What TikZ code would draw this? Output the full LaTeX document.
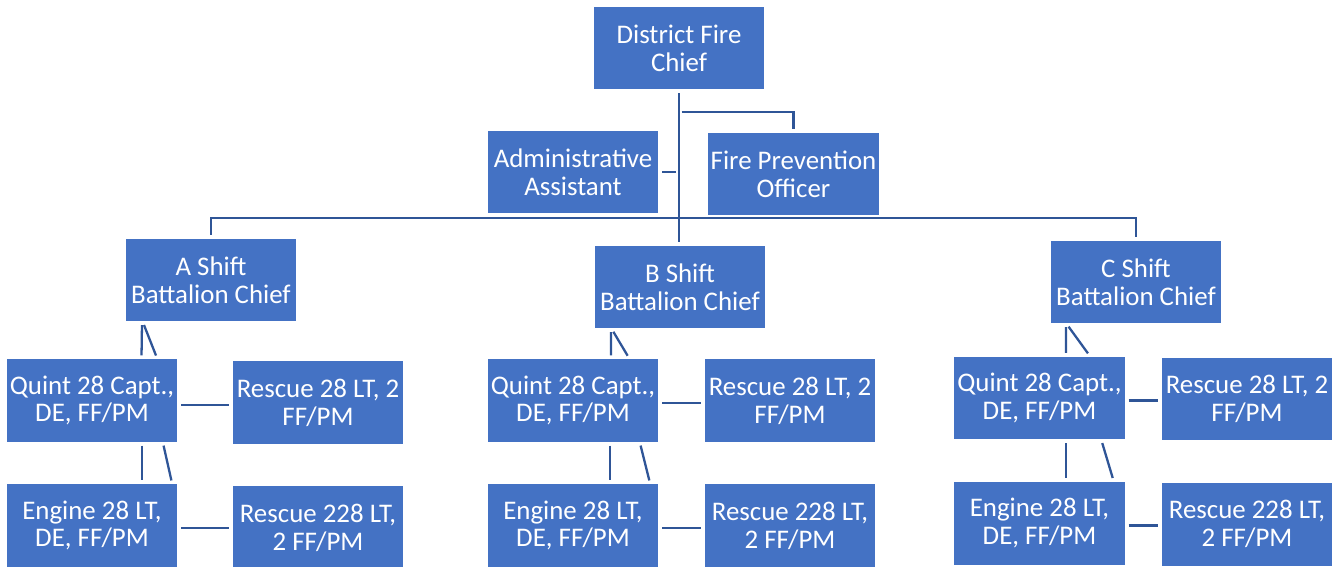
\documentclass[tikz,border=0pt]{standalone}
\usepackage{fontspec}
\setmainfont{Carlito}
\usetikzlibrary{positioning}
\definecolor{ChartFill}{HTML}{4472C4}
\definecolor{ChartLine}{HTML}{2F5597}

\begin{document}
\begin{tikzpicture}[x=0.02cm, y=-0.02cm,
    orgbox/.style={
      rectangle, draw=white, line width=0.6pt, fill=ChartFill, text=white,
      minimum width=3.44cm, minimum height=1.68cm, inner sep=1pt, align=center,
      font=\fontsize{15.3}{15.8}\selectfont
    },
    link/.style={draw=ChartLine, line width=1.3pt, shorten <=1.5pt, shorten >=1.5pt}
  ]
    \useasboundingbox (0,0) rectangle (1343,566);

    % top of the chart
    \node[orgbox] (chief) at (679,48) {District Fire\\Chief};
    \node[orgbox] (admin) at (573,172) {Administrative\\Assistant};
    \node[orgbox] (fpo) at (793.5,174) {Fire Prevention\\Officer};

    % battalion chiefs
    \node[orgbox] (ab) at (211,280) {A Shift\\Battalion Chief};
    \node[orgbox] (bb) at (680,287) {B Shift\\Battalion Chief};
    \node[orgbox] (cb) at (1136,282) {C Shift\\Battalion Chief};

    % A shift
    \node[orgbox] (aq) at (92,400.5) {Quint 28 Capt.,\\DE, FF/PM};
    \node[orgbox] (ar) at (318,402.5) {Rescue 28 LT, 2\\FF/PM};
    \node[orgbox, below=0.8cm of aq] (ae) {Engine 28 LT,\\DE, FF/PM};
    \node[orgbox, below=0.8cm of ar] (arr) {Rescue 228 LT,\\2 FF/PM};

    % B shift
    \node[orgbox] (bq) at (573,400.5) {Quint 28 Capt.,\\DE, FF/PM};
    \node[orgbox] (br) at (790,400.5) {Rescue 28 LT, 2\\FF/PM};
    \node[orgbox, below=0.8cm of bq] (be) {Engine 28 LT,\\DE, FF/PM};
    \node[orgbox, below=0.8cm of br] (brr) {Rescue 228 LT,\\2 FF/PM};

    % C shift
    \node[orgbox] (cq) at (1039.5,398) {Quint 28 Capt.,\\DE, FF/PM};
    \node[orgbox] (cr) at (1247,399) {Rescue 28 LT, 2\\FF/PM};
    \node[orgbox, below=0.8cm of cq] (ce) {Engine 28 LT,\\DE, FF/PM};
    \node[orgbox, below=0.8cm of cr] (crr) {Rescue 228 LT,\\2 FF/PM};

    \coordinate (hub) at (679,112);
    \coordinate (bus) at (679,218);

    % upper connectors
    \draw[link] (chief.south) -- (chief.south |- bb.north);
    \draw[link] (hub) -| (fpo.north);
    \draw[link] (admin.east) -- (admin.east -| hub);
    \draw[link] (ab.north) |- (bus) -| (cb.north);

    % A shift connectors
    \draw[link] ([xshift=0.99cm]aq.north) -- ([xshift=-1.38cm]ab.south);
    \draw[link] ([xshift=1.3cm]aq.north) -- ([xshift=-1.36cm]ab.south);
    \draw[link] ([xshift=1.0cm]aq.south) -- ([xshift=1.0cm]ae.north);
    \draw[link] ([xshift=1.42cm]aq.south) -- ([xshift=1.6cm]ae.north);
    \draw[link] ([yshift=-0.09cm]aq.east) -- ([yshift=-0.09cm]aq.east -| ar.west);
    \draw[link] ([yshift=-0.05cm]ae.east) -- ([yshift=-0.05cm]ae.east -| arr.west);

    % B shift connectors
    \draw[link] ([xshift=0.76cm]bq.north) -- ([xshift=-1.38cm]bb.south);
    \draw[link] ([xshift=1.12cm]bq.north) -- ([xshift=-1.36cm]bb.south);
    \draw[link] ([xshift=0.74cm]bq.south) -- ([xshift=0.74cm]be.north);
    \draw[link] ([xshift=1.34cm]bq.south) -- ([xshift=1.54cm]be.north);
    \draw[link] ([yshift=-0.05cm]bq.east) -- ([yshift=-0.05cm]bq.east -| br.west);
    \draw[link] ([yshift=-0.05cm]be.east) -- ([yshift=-0.05cm]be.east -| brr.west);

    % C shift connectors
    \draw[link] ([xshift=0.53cm]cq.north) -- ([xshift=-1.4cm]cb.south);
    \draw[link] ([xshift=1.0cm]cq.north) -- ([xshift=-1.38cm]cb.south);
    \draw[link] ([xshift=0.53cm]cq.south) -- ([xshift=0.53cm]ce.north);
    \draw[link] ([xshift=1.24cm]cq.south) -- ([xshift=1.48cm]ce.north);
    \draw[link] ([yshift=-0.05cm]cq.east) -- ([yshift=-0.05cm]cq.east -| cr.west);
    \draw[link] ([yshift=-0.05cm]ce.east) -- ([yshift=-0.05cm]ce.east -| crr.west);
  \end{tikzpicture}
\end{document}
